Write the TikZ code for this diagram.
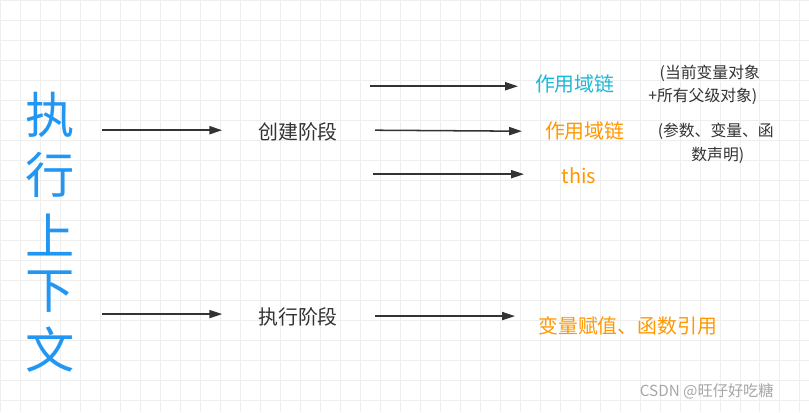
\documentclass[tikz,border=0pt]{standalone}
\usepackage{fontspec}
\setmainfont{Noto Sans CJK SC}
\usetikzlibrary{arrows.meta}
\definecolor{ctxblue}{HTML}{2196F3}
\definecolor{chaincyan}{HTML}{1CB8D8}
\definecolor{stageorange}{HTML}{FF9800}
\definecolor{linegray}{HTML}{333333}
\begin{document}
\begin{tikzpicture}[
        x=0.03cm, y=-0.03cm,
        >={Triangle[length=11pt, width=7pt]},
        % Styles
        arrow/.style={->, line width=1.3pt, linegray},
        stagetext/.style={font=\fontsize{17}{19}\selectfont, text=linegray},
        resulttext/.style={font=\fontsize{17}{19}\selectfont, text=stageorange},
        notetext/.style={font=\fontsize{13.5}{15}\selectfont, text=linegray, align=left},
        titlechar/.style={font=\fontsize{42}{46}\selectfont, text=ctxblue}, ]

        % background grid
        \fill[white] (0,0) rectangle (809,412);
        \draw[gray!13, line width=0.5pt, step=0.6cm] (0,0) grid (809,412);
        \useasboundingbox (0,0) rectangle (809,412);

        % === TITLE ===
        \node[titlechar] (c1) at (50,115) {执};
        \node[titlechar] (c2) at (50,175) {行};
        \node[titlechar] (c3) at (50,235) {上};
        \node[titlechar] (c4) at (50,292) {下};
        \node[titlechar] (c5) at (50,350) {文};

        % === CREATE STAGE ===
        \coordinate (a1) at (102,130);
        \coordinate (a1e) at (222,130);
        \node[stagetext] (create) at (298,132) {创建阶段};
        \draw[arrow] (a1) -- (a1e);

        \coordinate (b1) at (370,86);
        \coordinate (b1e) at (518,86);
        \coordinate (b2) at (375,130);
        \coordinate (b2e) at (522,131);
        \coordinate (b3) at (373,174);
        \coordinate (b3e) at (524,174);
        \node[resulttext, text=chaincyan] (chain1) at (575,84) {作用域链};
        \node[resulttext] (chain2) at (585,131) {作用域链};
        \node[resulttext] (this) at (579,176) {this};
        \draw[arrow] (b1) -- (b1e);
        \draw[arrow] (b2) -- (b2e);
        \draw[arrow] (b3) -- (b3e);

        \node[notetext] (note1a) at (710,73) {(当前变量对象};
        \node[notetext] (note1b) at (703,96) {+所有父级对象)};
        \node[notetext] (note2a) at (716,131) {(参数、变量、函};
        \node[notetext] (note2b) at (718,155) {数声明)};

        % === EXECUTE STAGE ===
        \coordinate (a2) at (102,314);
        \coordinate (a2e) at (222,314);
        \node[stagetext] (exec) at (298,317) {执行阶段};
        \draw[arrow] (a2) -- (a2e);
        \coordinate (b4) at (375,316);
        \coordinate (b4e) at (515,316);
        \node[resulttext] (assign) at (628,326) {变量赋值、函数引用};
        \draw[arrow] (b4) -- (b4e);

        % watermark
        \node[font=\fontsize{13}{15}\selectfont, text=gray!70] (mark) at (707,391) {CSDN @旺仔好吃糖};
\end{tikzpicture}
\end{document}
